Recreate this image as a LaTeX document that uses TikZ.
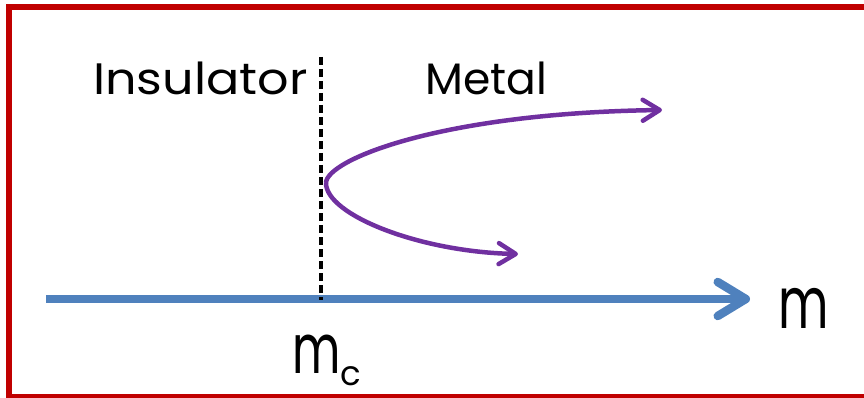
\documentclass[tikz,border=0pt]{standalone}
\usepackage{fontspec}
\newfontfamily\comic{Poppins}
\newfontfamily\comicwide[FakeStretch=1.12]{Poppins}
\newfontfamily\comicnarrow[FakeStretch=0.68]{Poppins}
\usetikzlibrary{arrows.meta}
\definecolor{frame}{HTML}{C00000}
\definecolor{axisblue}{HTML}{4F81BD}
\definecolor{purp}{HTML}{7030A0}
\begin{document}
\begin{tikzpicture}[x=1pt,y=-1pt,
  lbl/.style={inner sep=0pt, font=\comic\fontsize{44}{50}\selectfont},
  biglbl/.style={inner sep=0pt, font=\comicnarrow\fontsize{72}{80}\selectfont},
  chev/.style={-{Straight Barb[length=17pt,width=21pt,round]}},
  curve/.style={purp, line width=4.5pt, chev}]
\useasboundingbox (0,0) rectangle (864,398);
\clip (0,0) rectangle (864,398);
\coordinate (f0) at (864,7.5);
\coordinate (f1) at (8.5,7.5);
\coordinate (f2) at (8.5,397);
\coordinate (f3) at (864,397);
\draw[frame, line width=6pt, line join=miter] (f0) -- (f1) -- (f2) -- (f3);
% axis
\coordinate (a0) at (46,299);
\coordinate (a1) at (750,299);
\draw[axisblue, line width=8.5pt, -{Straight Barb[length=28pt,width=34pt,round]}] (a0) -- (a1);
% dashed
\coordinate (d0) at (321,57);
\coordinate (d1) at (321,300);
\draw[black, line width=4pt, dash pattern=on 8pt off 4pt] (d0) -- (d1);
% curve
\coordinate (v) at (326,183);
\coordinate (u) at (662,110);
\coordinate (l) at (518,254);
\draw[curve] (v) .. controls (326,160) and (440,113) .. (u);
\draw[curve] (v) .. controls (326,215) and (420,252) .. (l);
% labels
\node[lbl, font=\comicwide\fontsize{44}{50}\selectfont, anchor=base west] (ins) at (93,95) {Insulator};
\node[lbl, anchor=base west] (met) at (425,95) {Metal};
\node[biglbl, anchor=base west] (m) at (778,328) {m};
\node[biglbl, font=\comicnarrow\fontsize{69}{75}\selectfont, anchor=base west] (mc) at (292,373) {m\raisebox{-12pt}{\comic\fontsize{34}{40}\selectfont c}};
\end{tikzpicture}
\end{document}
